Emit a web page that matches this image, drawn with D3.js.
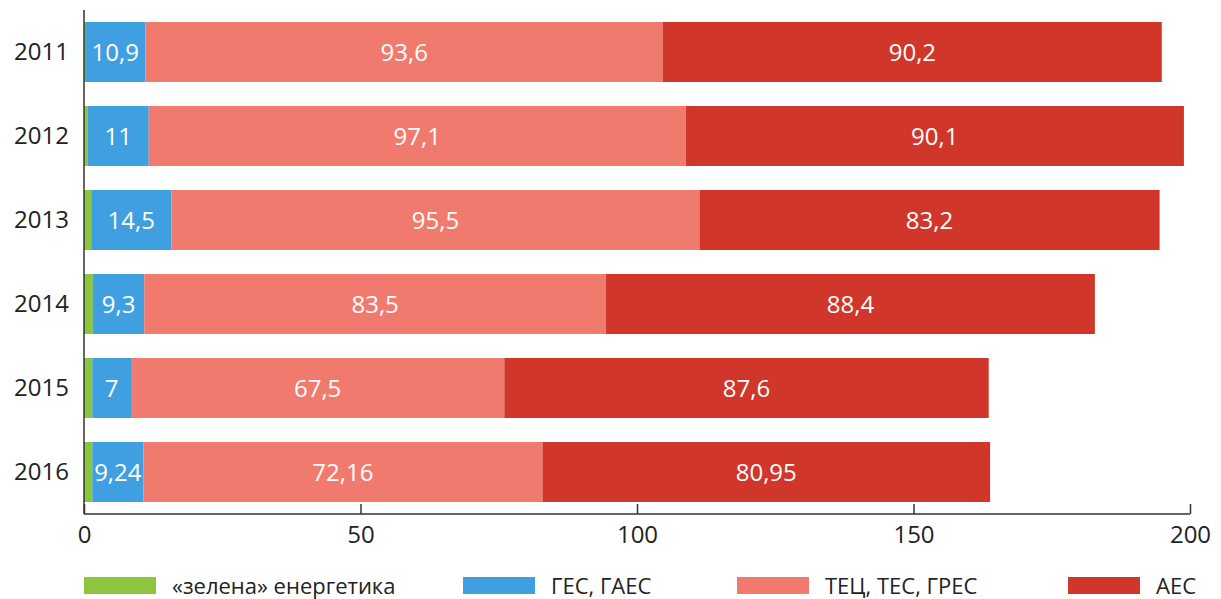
<!DOCTYPE html>
<html lang="uk">
<head>
    <meta charset="UTF-8">
    <title>Chart</title>
    <script src="https://d3js.org/d3.v7.min.js"></script>
    <style>
        body { margin: 0; background: #fff; }
        text { font-family: "Open Sans", sans-serif; }
    </style>
</head>
<body>
    <svg width="1221" height="599"></svg>
    <script>
        var years = ["2011", "2012", "2013", "2014", "2015", "2016"];
        var green = [0.2, 0.7, 1.3, 1.6, 1.5, 1.5];
        var hydro = [10.9, 11, 14.5, 9.3, 7, 9.24];
        var thermal = [93.6, 97.1, 95.5, 83.5, 67.5, 72.16];
        var nuclear = [90.2, 90.1, 83.2, 88.4, 87.6, 80.95];
        var hydroLabels = ["10,9", "11", "14,5", "9,3", "7", "9,24"];
        var thermalLabels = ["93,6", "97,1", "95,5", "83,5", "67,5", "72,16"];
        var nuclearLabels = ["90,2", "90,1", "83,2", "88,4", "87,6", "80,95"];
        var seriesNames = ["«зелена» енергетика", "ГЕС, ГАЕС", "ТЕЦ, ТЕС, ГРЕС", "АЕС"];
        var colors = ["#8cc63f", "#3f9fe0", "#f17a6f", "#d03629"];
        var ticks = [0, 50, 100, 150, 200];

        var series = [green, hydro, thermal, nuclear];
        var labels = [null, hydroLabels, thermalLabels, nuclearLabels];

        var svg = d3.select("svg");
        var x = d3.scaleLinear().domain([0, 200]).range([84, 1190]);
        var y = d3.scaleBand().domain(years).range([10, 514])
            .paddingInner(0.286).paddingOuter(0.143);

        // stacked segments
        var segs = [];
        years.forEach(function(yr, i) {
            var start = 0;
            series.forEach(function(s, k) {
                segs.push({year: yr, k: k, x0: start, x1: start + s[i],
                    label: labels[k] ? labels[k][i] : null});
                start += s[i];
            });
        });

        svg.append("g")
            .selectAll("rect")
            .data(segs)
            .join("rect")
            .attr("x", d => x(d.x0))
            .attr("y", d => y(d.year))
            .attr("width", d => x(d.x1) - x(d.x0))
            .attr("height", y.bandwidth())
            .style("fill", d => colors[d.k]);

        svg.append("g")
            .selectAll("text")
            .data(segs.filter(d => d.label))
            .join("text")
            .attr("x", d => (x(d.x0) + x(d.x1)) / 2)
            .attr("y", d => y(d.year) + y.bandwidth() / 2)
            .attr("dy", "0.36em")
            .attr("text-anchor", "middle")
            .style("fill", "#fff")
            .style("font-size", "24px")
            .text(d => d.label);

        // axes
        var yAxis = svg.append("g")
            .attr("transform", "translate(84,0)")
            .call(d3.axisLeft(y).tickSize(0).tickPadding(15));
        yAxis.select(".domain").remove();
        yAxis.selectAll("text").style("font-size", "24px").style("fill", "#222")
            .style("font-family", "'Open Sans', sans-serif");

        var xAxis = svg.append("g")
            .attr("transform", "translate(0,514)")
            .call(d3.axisBottom(x).tickValues(ticks).tickSize(-10).tickPadding(12));
        xAxis.select(".domain").remove();
        xAxis.selectAll("line").style("stroke", "#333").style("stroke-width", 1.5);
        xAxis.selectAll("text").style("font-size", "24px").style("fill", "#222")
            .style("font-family", "'Open Sans', sans-serif");

        svg.append("line")
            .attr("x1", x(0)).attr("x2", x(200))
            .attr("y1", 514).attr("y2", 514)
            .style("stroke", "#333").style("stroke-width", 1.5);
        svg.append("line")
            .attr("x1", x(0)).attr("x2", x(0))
            .attr("y1", 10).attr("y2", 514)
            .style("stroke", "#333").style("stroke-width", 1.5);

        // legend
        var legendX = [84, 463, 737, 1068];
        var legend = svg.append("g")
            .selectAll("g")
            .data(seriesNames)
            .join("g")
            .attr("transform", (d, i) => "translate(" + legendX[i] + ",577)");
        legend.append("rect")
            .attr("width", 72).attr("height", 17)
            .style("fill", (d, i) => colors[i]);
        legend.append("text")
            .attr("x", 88).attr("y", 9).attr("dy", "0.36em")
            .style("font-size", "22px").style("fill", "#222")
            .text(d => d);
    </script>
</body>
</html>
